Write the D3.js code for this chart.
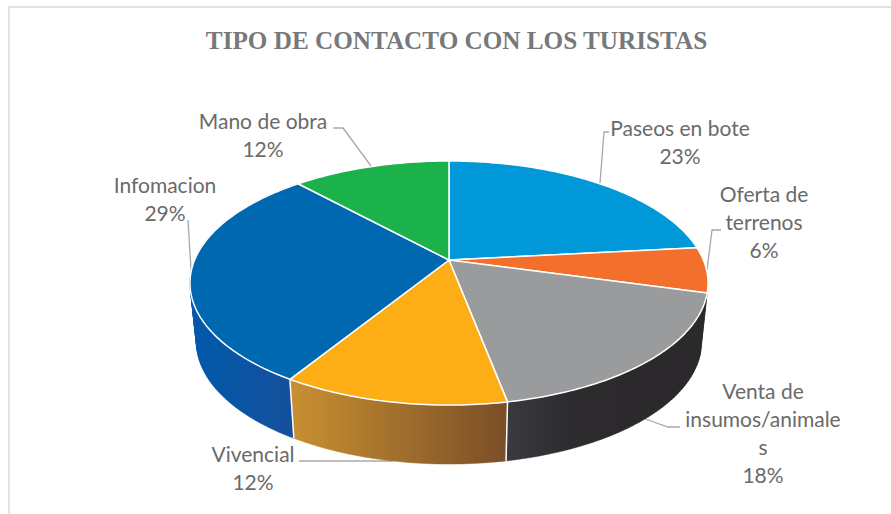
<!DOCTYPE html>
<html>
<head>
<meta charset="utf-8">
<script src="https://cdn.jsdelivr.net/npm/d3@7/dist/d3.min.js"></script>
<style>
  html, body { margin: 0; padding: 0; background: #fff; }
  text { font-family: Lato, sans-serif; font-size: 21px; fill: #6a6a6a; }
  .title { font-family: "Liberation Serif", serif; font-weight: bold; font-size: 25.2px; fill: #77787a; }
</style>
</head>
<body>
<svg id="chart" width="891" height="514"></svg>
<script>
// Values
const categories = ["Paseos en bote", "Oferta de terrenos", "Venta de insumos/animales", "Vivencial", "Infomacion", "Mano de obra"];
const values = [23.3, 6, 17.7, 11.8, 29.4, 11.8];
const topColors = ["#0098d8", "#f36f2c", "#999b9d", "#fdae17", "#0067b1", "#1cb24b"];
// side wall gradients, only the slices whose wall faces the viewer
const sideColors = [null, null, ["#3a393e", "#2d2b2e", "#2b292c", "#2b292c"], ["#c99032", "#7a4e27"], ["#0059ab", "#14509c"], null];

const labelLines = [
  ["Paseos en bote", "23%"],
  ["Oferta de", "terrenos", "6%"],
  ["Venta de", "insumos/animale", "s", "18%"],
  ["Vivencial", "12%"],
  ["Infomacion", "29%"],
  ["Mano de obra", "12%"]
];
const labelCenters = [[680, 142.5], [764, 223], [763, 434], [253, 469], [165, 199.5], [263, 136]];
const leaders = [
  [[609, 132], [604, 132], [600, 183]],
  [[721, 230], [712, 230], [707, 270]],
  [[680, 427], [668, 427], [640, 417]],
  [[299, 461], [393, 461]],
  [[188, 220], [191, 270]],
  [[333, 128], [343, 128], [371, 166]]
];

const svg = d3.select("#chart");

// Chart frame, only top and left are in the picture
svg.append("path")
    .attr("d", "M9,514V7H891")
    .attr("fill", "none")
    .attr("stroke", "#e2e2e2")
    .attr("stroke-width", 2);

svg.append("text")
    .attr("class", "title")
    .attr("x", 456.5)
    .attr("y", 49)
    .attr("text-anchor", "middle")
    .text("TIPO DE CONTACTO CON LOS TURISTAS");

// Perspective disc: apex at (cx, cy), near edge bigger than far edge
const cx = 449, cy = 260, a = 254.4, b = 117.7, k = 0.1885;
const depth = 59, shrink = 0.975;

function rim(theta) {
  const u = Math.sin(theta), v = -Math.cos(theta), w = 1 - k * v;
  return [cx + a * u / w, cy + b * v / w];
}
function rimLow(theta) {
  const p = rim(theta);
  return [cx + (p[0] - cx) * shrink, p[1] + depth];
}
function sample(d) {
  const n = Math.max(2, Math.ceil((d.endAngle - d.startAngle) * 60));
  return d3.range(n + 1).map(i => d.startAngle + (d.endAngle - d.startAngle) * i / n);
}

const pie = d3.pie().sort(null).value(d => d);
const arcs = pie(values);
const line = d3.line();

// Leader lines go behind the disc
svg.append("g").selectAll("path")
    .data(leaders)
    .enter().append("path")
    .attr("d", d => line(d))
    .attr("fill", "none")
    .attr("stroke", "#a8a8a8")
    .attr("stroke-width", 1.3);

const defs = svg.append("defs");
sideColors.forEach((c, i) => {
  if (!c) return;
  const g = defs.append("linearGradient").attr("id", "side" + i)
      .attr("gradientUnits", "userSpaceOnUse");
  const d = arcs[i];
  const xs = sample(d).filter(t => Math.cos(t) < 0.2).map(t => rim(t)[0]);
  g.attr("x1", d3.min(xs)).attr("x2", d3.max(xs));
  c.forEach((col, j) => {
    g.append("stop").attr("offset", (j / (c.length - 1) * 100) + "%").attr("stop-color", col);
  });
});

// Walls first, the top faces hide whatever is behind. Built from thin quads
// so the outline follows the tangent between the upper and lower rim.
const walls = arcs.filter(d => sideColors[d.index]);
svg.append("g").selectAll("path")
    .data(walls)
    .enter().append("path")
    .attr("d", d => {
      const t = sample(d);
      return d3.pairs(t).map(p => {
        const quad = [rim(p[0]), rim(p[1]), rimLow(p[1]), rimLow(p[0])];
        return line(d3.polygonHull(quad)) + "Z";
      }).join("");
    })
    .attr("fill", d => "url(#side" + d.index + ")")
    .attr("stroke", d => "url(#side" + d.index + ")")
    .attr("stroke-width", 0.5);

// White edges between the walls, the first wall starts on the outline
svg.append("g").selectAll("path")
    .data(walls.slice(1))
    .enter().append("path")
    .attr("d", d => line([rim(d.startAngle), rimLow(d.startAngle)]))
    .attr("stroke", "#fff")
    .attr("stroke-width", 1.5);

svg.append("g").selectAll("path")
    .data(arcs)
    .enter().append("path")
    .attr("d", d => line([[cx, cy]].concat(sample(d).map(rim))) + "Z")
    .attr("fill", (d, i) => topColors[i])
    .attr("stroke", "#fff")
    .attr("stroke-width", 1.5)
    .attr("stroke-linejoin", "round");

// Data labels
const lineHeight = 28;
svg.append("g").selectAll("text")
    .data(labelLines)
    .enter().append("text")
    .attr("text-anchor", "middle")
    .attr("transform", (d, i) => "translate(" + labelCenters[i][0] + "," + (labelCenters[i][1] - (d.length - 1) * lineHeight / 2 + 7) + ")")
    .selectAll("tspan")
    .data(d => d)
    .enter().append("tspan")
    .attr("x", 0)
    .attr("y", (d, i) => i * lineHeight)
    .text(d => d);
</script>
</body>
</html>
